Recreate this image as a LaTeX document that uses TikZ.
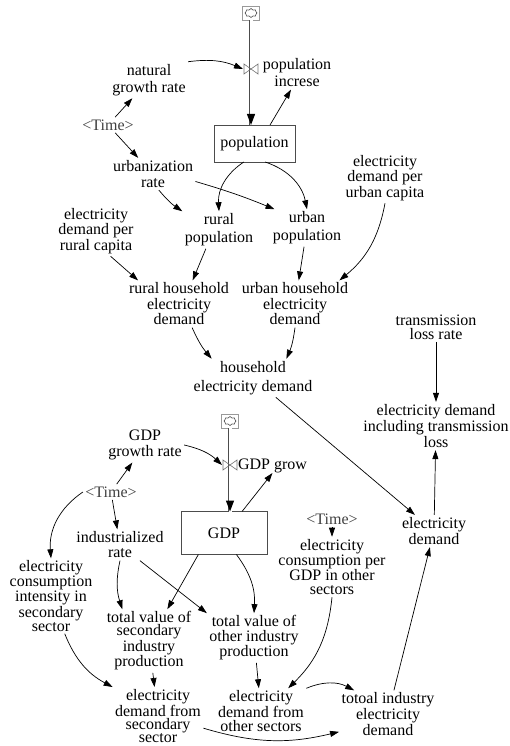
\documentclass[tikz,border=0pt]{standalone}
\usepackage{fontspec}
\setmainfont{Liberation Serif}
\usetikzlibrary{arrows.meta,shapes.symbols}
\tikzset{
  svar/.style={align=center, inner sep=0pt, outer sep=2.5pt, font=\fontsize{16}{15.5}\selectfont},
  lead/.style={font=\fontsize{16}{#1}\selectfont},
  shadowvar/.style={svar, text=black!75},
  stock/.style={rectangle, draw=black!70, line width=0.9pt, minimum width=81pt, minimum height=37pt,
                inner sep=0pt, outer sep=0pt, font=\fontsize{16}{16}\selectfont},
  link/.style={-{Triangle[length=9pt,width=6pt]}, line width=0.7pt, black},
  pipe/.style={double=white, double distance=3pt, line width=0.7pt, draw=black!70},
  pipetip/.style={-{Triangle[length=11pt,width=8pt,black]}, white, line width=1.2pt},
  srcbox/.style={rectangle, draw=black!40, line width=0.5pt, minimum width=17pt, minimum height=14pt, inner sep=0pt},
  cloudsym/.style={cloud, cloud puffs=8, draw=black!70, line width=0.6pt, minimum width=12pt,
                   minimum height=9pt, inner sep=0pt, aspect=1.3},
  valvesp/.style={minimum width=14pt, minimum height=10pt, inner sep=0pt, outer sep=1pt},
  valve/.pic={\draw[black!55, line width=0.6pt] (-7,-5) -- (7,5) -- (7,-5) -- (-7,5) -- cycle;},
}
\begin{document}
\begin{tikzpicture}[x=1pt, y=-1pt]
  \useasboundingbox (0,0) rectangle (510,746);
  % population sector
  \node[srcbox] (popsrc) at (251,13) {};
  \node[cloudsym] at (popsrc) {};
  \node[valvesp] (popvalve) at (251,69) {};
  \node[stock] (popbox) at (254.5,143.5) {population};
  \node[svar, lead=17] (popinc) at (297,73) {population\\increse};
  \node[svar, lead=17] (natgrowth) at (149,80) {natural\\growth rate};
  \node[shadowvar] (time1) at (108,125) {<Time>};
  \node[svar, lead=16] (urbrate) at (153,174) {urbanization\\rate};
  \node[svar, lead=18] (ruralpop) at (219,230) {rural\\population};
  \node[svar, lead=18] (urbanpop) at (307,228) {urban\\population};
  \node[svar, lead=14.5] (urbancap) at (385,178) {electricity\\demand per\\urban capita};
  \node[svar, lead=13.5] (ruralcap) at (96,231) {electricity\\demand per\\rural capita};
  \node[svar] (rurhh) at (179,304) {rural household\\electricity\\demand};
  \node[svar] (urbhh) at (295,304) {urban household\\electricity\\demand};
  \node[svar, lead=19] (hhdem) at (253,378) {household\\electricity demand};
  \node[svar, lead=14] (translos) at (436,327) {transmission\\loss rate};
  \node[svar, lead=16] (elecloss) at (436,426) {electricity demand\\including transmission\\loss};
  \node[svar, lead=16] (elecdem) at (434,531) {electricity\\demand};
  % GDP sector
  \node[srcbox] (gdpsrc) at (230,421) {};
  \node[cloudsym] at (gdpsrc) {};
  \node[valvesp] (gdpvalve) at (230,465) {};
  \node[svar, anchor=west, outer sep=0pt] (gdpgrow) at (238,466) {GDP grow};
  \node[stock, minimum width=86pt, minimum height=43pt] (gdpbox) at (224,533) {GDP};
  \node[svar, lead=16] (gdprate) at (145,445) {GDP\\growth rate};
  \node[shadowvar] (time2) at (111,492) {<Time>};
  \node[svar, lead=15] (indrate) at (120,545) {industrialized\\rate};
  \node[svar, lead=13.5] (eleccons) at (51,596) {electricity\\consumption\\intensity in\\secondary\\sector};
  \node[shadowvar] (time3) at (332,519) {<Time>};
  \node[svar, lead=13.7] (ecpergdp) at (332,567) {electricity\\consumption per\\GDP in other\\sectors};
  \node[svar, lead=12.8] (totsec) at (149,641) {total value of\\secondary\\industry\\production};
  \node[svar, lead=14.5] (totother) at (254,638) {total value of\\other industry\\production};
  \node[svar, lead=13] (edemsec) at (158,716) {electricity\\demand from\\secondary\\sector};
  \node[svar, lead=13.5] (edemoth) at (261,711) {electricity\\demand from\\other sectors};
  \node[svar, lead=12.5] (totind) at (388,714) {totoal industry\\electricity\\demand};

  % flows
  \draw[pipe] (popsrc) -- (popvalve |- popbox.north);
  \draw[pipetip] (popvalve) -- (popvalve |- popbox.north);
  \pic at (popvalve) {valve};
  \draw[pipe] (gdpsrc) -- (gdpvalve |- gdpbox.north);
  \draw[pipetip] (gdpvalve) -- (gdpvalve |- gdpbox.north);
  \pic at (gdpvalve) {valve};

  % links, population part
  \draw[link] (natgrowth.north east) to[bend left=15] (popvalve.west);
  \draw[link] (time1) -- (natgrowth);
  \draw[link] (time1) -- (urbrate);
  \draw[link] (popbox.50) -- (popinc.250);
  \draw[link] (urbrate.290) to[bend right=8] (ruralpop.north west);
  \draw[link] (urbrate.-10) to[bend left=3] (urbanpop.150);
  \draw[link] (popbox.240) to[bend right=30] (ruralpop.north);
  \draw[link] (popbox.300) to[bend left=30] (urbanpop.north);
  \draw[link] (ruralcap.-60) -- (rurhh.150);
  \draw[link] (ruralpop.235) -- (rurhh.60);
  \draw[link] (urbanpop) -- (urbhh);
  \draw[link] (urbancap.south) to[bend left=20] (urbhh.28);
  \draw[link] (rurhh.-61) to[bend right=8] (hhdem.155);
  \draw[link] (urbhh.south) to[bend left=8] (hhdem.30);
  \draw[link] (hhdem) -- (elecdem);
  \draw[link] (translos) -- (elecloss);
  \draw[link] (elecdem) -- (elecloss);

  % links, GDP part
  \draw[link] (gdprate.east) to[bend left=15] (gdpvalve.west);
  \draw[link] (gdpbox.50) -- (gdpgrow.south);
  \draw[link] (time2) -- (gdprate);
  \draw[link] (time2) -- (indrate);
  \draw[link] (time2.west) to[bend right=30] (eleccons.north);
  \draw[link] (indrate.south) to[bend right=15] (totsec.130);
  \draw[link] (indrate) -- (totother.north west);
  \draw[link] (gdpbox.220) -- (totsec.60);
  \draw[link] (gdpbox.300) to[bend left=20] (totother.north);
  \draw[link] (time3) -- (ecpergdp);
  \draw[link] (ecpergdp.south) to[bend left=20] (edemoth.40);
  \draw[link] (totother) -- (edemoth);
  \draw[link] (totsec) -- (edemsec);
  \draw[link] (eleccons.290) to[bend right=20] (edemsec.north west);
  \draw[link] (edemoth.north east) to[bend left=25] (totind.145);
  \draw[link] (edemsec.-15) to[bend right=15] (totind.200);
  \draw[link] (totind) -- (elecdem);
\end{tikzpicture}
\end{document}
